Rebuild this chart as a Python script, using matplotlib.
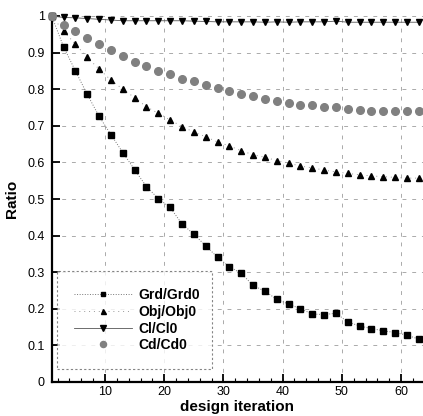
import matplotlib
matplotlib.use("Agg")
import matplotlib.pyplot as plt
from matplotlib.ticker import MultipleLocator

iterations = list(range(1, 64, 2))

grd = [1.0, 0.916, 0.850, 0.786, 0.726, 0.676, 0.627, 0.580, 0.534, 0.501,
       0.477, 0.432, 0.404, 0.372, 0.341, 0.315, 0.297, 0.264, 0.248, 0.226,
       0.213, 0.200, 0.186, 0.184, 0.188, 0.164, 0.153, 0.146, 0.140, 0.135,
       0.128, 0.117]
obj = [1.0, 0.959, 0.923, 0.887, 0.855, 0.825, 0.800, 0.777, 0.752, 0.734,
       0.716, 0.698, 0.683, 0.670, 0.656, 0.645, 0.632, 0.621, 0.614, 0.605,
       0.598, 0.590, 0.585, 0.579, 0.574, 0.570, 0.566, 0.563, 0.561, 0.559,
       0.557, 0.557]
cl = [1.0, 0.996, 0.995, 0.993, 0.991, 0.989, 0.987, 0.987, 0.987, 0.987,
      0.987, 0.987, 0.986, 0.985, 0.984, 0.984, 0.984, 0.984, 0.983, 0.984,
      0.983, 0.984, 0.984, 0.984, 0.986, 0.983, 0.983, 0.983, 0.983, 0.983,
      0.983, 0.983]
cd = [1.0, 0.975, 0.959, 0.939, 0.923, 0.906, 0.892, 0.875, 0.863, 0.851,
      0.842, 0.829, 0.822, 0.811, 0.803, 0.796, 0.787, 0.781, 0.774, 0.769,
      0.763, 0.758, 0.756, 0.752, 0.752, 0.747, 0.743, 0.740, 0.740, 0.740,
      0.740, 0.740]

labels = ["Grd/Grd0", "Obj/Obj0", "Cl/Cl0", "Cd/Cd0"]
xticks = [10, 20, 30, 40, 50, 60]
yticks = [0, 0.1, 0.2, 0.3, 0.4, 0.5, 0.6, 0.7, 0.8, 0.9, 1]
ytick_labels = ["0", "0.1", "0.2", "0.3", "0.4", "0.5", "0.6", "0.7", "0.8", "0.9", "1"]

plt.rcParams['font.family'] = ['Liberation Sans', 'DejaVu Sans']

fig = plt.figure(figsize=(4.23, 4.16), dpi=100)
ax = fig.add_axes([51.7 / 423, 1 - 382 / 416, (423 - 51.7) / 423, (382 - 16) / 416])

ax.plot(iterations, grd, color="#777777", lw=0.7, ls=":", marker="s", ms=4.3,
        mfc="black", mec="black", label=labels[0], clip_on=False, zorder=3)
ax.plot(iterations, obj, color="#999999", lw=0.7, ls=(0, (1, 4)), marker="^", ms=4.5,
        mfc="black", mec="black", label=labels[1], clip_on=False, zorder=3)
ax.plot(iterations, cl, color="#555555", lw=0.6, ls="-", marker="v", ms=5,
        mfc="black", mec="black", label=labels[2], clip_on=False, zorder=3)
ax.plot(iterations, cd, color="none", lw=0, marker="o", ms=5.5,
        mfc="#808080", mec="#808080", label=labels[3], clip_on=False, zorder=3)

ax.set_xlim(1, 63.7)
ax.set_ylim(0, 1)
ax.set_xticks(xticks)
ax.set_yticks(yticks)
ax.set_yticklabels(ytick_labels)
ax.xaxis.set_minor_locator(MultipleLocator(2))
ax.tick_params(which="major", direction="in", length=6, width=1.3, labelsize=9)
ax.tick_params(which="minor", direction="in", length=3, width=0.8)
ax.tick_params(axis="x", pad=3)
ax.tick_params(axis="y", pad=5)

ax.spines["top"].set_visible(False)
ax.spines["right"].set_visible(False)
ax.spines["left"].set_linewidth(1.6)
ax.spines["bottom"].set_linewidth(1.6)

ax.grid(True, which="major", color="#aaaaaa", ls=(0, (4, 6)), lw=0.7)

ax.set_xlabel("design iteration", fontsize=11, fontweight="bold", labelpad=1)
ax.set_ylabel("Ratio", fontsize=11, fontweight="bold", labelpad=6)

leg = ax.legend(loc="lower left", bbox_to_anchor=(0.014, 0.0355, 0.417, 0.265), mode="expand",
                borderaxespad=0, frameon=True, fancybox=False, handlelength=4.2,
                handletextpad=0.5, borderpad=1.2, labelspacing=0.2, markerscale=0.8,
                prop={"weight": "bold", "size": 10})
frame = leg.get_frame()
frame.set_edgecolor("#666666")
frame.set_linestyle((0, (2, 2)))
frame.set_linewidth(0.8)

fig.savefig("out.png", dpi=100)
